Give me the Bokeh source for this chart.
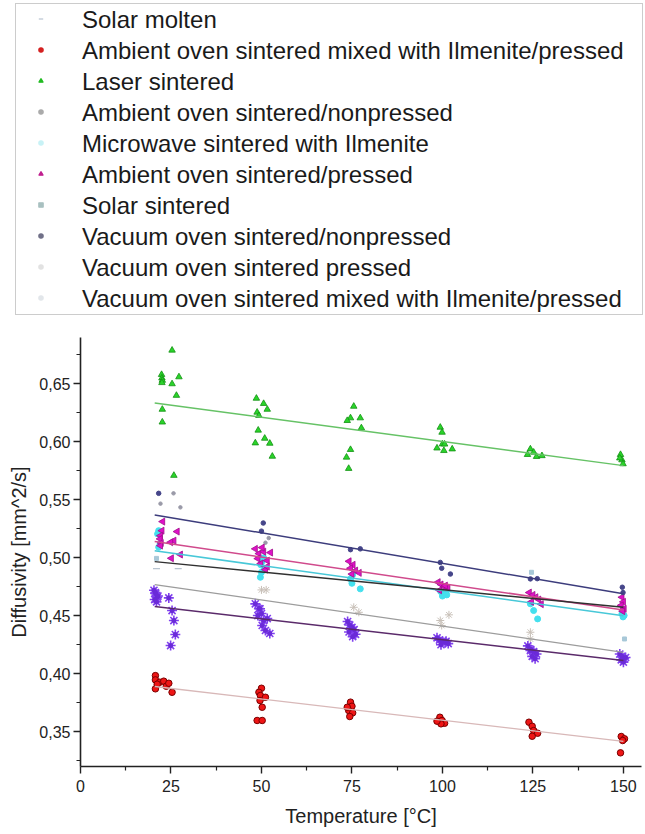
from bokeh.plotting import figure
from bokeh.models import Range1d, FixedTicker, Legend, LegendItem, CustomJSTickFormatter, Plot
from bokeh.layouts import column
from bokeh.embed import file_html
from bokeh.resources import INLINE
import math

# ---------------- data ----------------
series_names = [
    "Solar molten",
    "Ambient oven sintered mixed with Ilmenite/pressed",
    "Laser sintered",
    "Ambient oven sintered/nonpressed",
    "Microwave sintered with Ilmenite",
    "Ambient oven sintered/pressed",
    "Solar sintered",
    "Vacuum oven sintered/nonpressed",
    "Vacuum oven sintered pressed",
    "Vacuum oven sintered mixed with Ilmenite/pressed",
]

x_ticks = [0, 25, 50, 75, 100, 125, 150]
y_ticks = [0.35, 0.40, 0.45, 0.50, 0.55, 0.60, 0.65]

laser_x = [25.3, 22.4, 22.5, 22.6, 22.5, 25.3, 27.2, 26.5, 22.6, 22.6, 25.8,
           48.6, 50.6, 51.6, 48.8, 49.3, 49.1, 50.9, 48.3, 52.3, 53.0,
           75.5, 74.6, 73.7, 77.3, 77.6, 74.6, 73.5, 74.1,
           99.4, 99.9, 100.0, 98.5, 100.4, 102.7, 100.6,
           124.3, 125.2, 123.5, 126.0, 127.5,
           149.2, 149.6, 149.9, 149.0]
laser_y = [0.679, 0.658, 0.655, 0.653, 0.651, 0.650, 0.656, 0.640, 0.628, 0.617, 0.571,
           0.6375, 0.633, 0.628, 0.6255, 0.6226, 0.610, 0.603, 0.599, 0.5987, 0.5875,
           0.6306, 0.6206, 0.6183, 0.6206, 0.612, 0.5933, 0.5867, 0.577,
           0.6125, 0.6082, 0.5981, 0.5946, 0.5924, 0.5938, 0.598,
           0.5938, 0.591, 0.589, 0.5873, 0.588,
           0.589, 0.5844, 0.581, 0.586]

red_x = [20.7, 20.7, 20.7, 21.9, 23.0, 23.7, 24.4, 25.3, 21.2,
         50.0, 49.3, 49.7, 51.1, 49.6, 50.2, 48.8, 50.2,
         74.6, 75.0, 74.1, 75.2, 74.4, 73.7,
         99.3, 99.9, 100.6, 99.6, 98.5,
         123.9, 124.8, 125.2, 126.3, 124.8,
         149.4, 150.3, 149.8, 149.2]
red_y = [0.3984, 0.3947, 0.387, 0.3927, 0.3936, 0.3892, 0.3918, 0.384, 0.391,
         0.3875, 0.384, 0.3812, 0.3797, 0.3769, 0.3711, 0.3597, 0.3597,
         0.3755, 0.372, 0.3683, 0.3663, 0.3631, 0.3711,
         0.3625, 0.3597, 0.3573, 0.3568, 0.3591,
         0.3582, 0.3547, 0.351, 0.3487, 0.3461,
         0.3459, 0.3439, 0.3424, 0.3318]

mag_x = [22.7, 22.5, 22.1, 22.0, 22.3, 22.1, 25.8, 24.9, 26.7, 27.6, 25.1,
         48.3, 49.3, 50.6, 52.5, 51.6, 49.8, 49.0, 50.2, 51.1, 51.6,
         74.2, 75.3, 74.6, 76.0, 77.0, 75.0,
         98.8, 99.6, 100.5, 101.5, 99.2, 100.8,
         124.0, 125.0, 125.8, 126.6, 124.6, 127.3,
         149.6, 150.0, 149.4, 150.2, 149.8]
mag_y = [0.5312, 0.5234, 0.5191, 0.5163, 0.5128, 0.5105, 0.5148, 0.5134, 0.5226, 0.5028, 0.4996,
         0.5077, 0.5036, 0.5053, 0.5045, 0.4976, 0.495, 0.4993, 0.5088, 0.4898, 0.4924,
         0.497, 0.494, 0.491, 0.489, 0.487, 0.486,
         0.479, 0.477, 0.475, 0.474, 0.472, 0.476,
         0.470, 0.468, 0.466, 0.464, 0.462, 0.460,
         0.466, 0.462, 0.459, 0.456, 0.454]

cyan_x = [21.6, 21.3, 21.6, 22.0, 50.6, 50.2, 49.8, 50.8, 50.0, 49.7,
          74.6, 75.2, 77.3, 75.0, 99.5, 100.3, 101.2, 100.0,
          124.3, 125.2, 126.3, 149.6, 150.2, 149.9]
cyan_y = [0.5234, 0.5206, 0.5091, 0.512, 0.500, 0.497, 0.494, 0.491, 0.4875, 0.4832,
          0.4818, 0.4855, 0.4732, 0.478, 0.471, 0.469, 0.468, 0.467,
          0.4603, 0.4545, 0.4473, 0.4517, 0.4502, 0.449]

navy_x = [21.6, 50.0, 50.5, 74.6, 77.3, 99.4, 99.8, 102.2, 124.3, 126.2, 149.7, 149.9]
navy_y = [0.5556, 0.523, 0.530, 0.507, 0.5077, 0.496, 0.491, 0.486, 0.4818, 0.482, 0.4746, 0.470]

anp_x = [25.7, 22.1, 27.6, 51.1, 52.0]
anp_y = [0.5556, 0.5467, 0.5435, 0.513, 0.517]

vp_x = [50.0, 51.3, 75.5, 76.9, 99.4, 99.8, 101.8, 124.3, 124.3]
vp_y = [0.4723, 0.4723, 0.4573, 0.453, 0.4459, 0.4416, 0.4508, 0.4358, 0.430]

molten_x = [21.0, 27.0]
molten_y = [0.4907, 0.4907]

solar_x = [21.0, 124.6, 150.3]
solar_y = [0.4995, 0.4875, 0.430]

star_x = [20.3, 20.8, 21.2, 20.5, 21.0, 20.7, 21.4, 24.4, 25.3, 25.8, 26.2, 24.9,
          48.3, 49.3, 50.0, 50.6, 50.2, 51.1, 52.3, 49.0, 51.6, 49.6,
          73.8, 74.4, 75.0, 75.6, 74.2, 76.0, 75.2, 74.8,
          98.5, 99.2, 100.0, 100.8, 101.6, 99.6, 101.0,
          123.6, 124.4, 125.2, 126.0, 124.8, 125.6, 124.3,
          149.0, 149.6, 150.2, 149.4, 150.0, 150.6]
star_y = [0.472, 0.469, 0.466, 0.464, 0.462, 0.470, 0.467, 0.4654, 0.4545, 0.4459, 0.4338, 0.4243,
          0.4603, 0.4562, 0.4519, 0.4459, 0.4416, 0.4373, 0.4347, 0.4502, 0.4476, 0.4560,
          0.445, 0.442, 0.440, 0.438, 0.436, 0.434, 0.432, 0.439,
          0.431, 0.429, 0.428, 0.427, 0.426, 0.425, 0.428,
          0.424, 0.421, 0.419, 0.417, 0.415, 0.413, 0.420,
          0.417, 0.415, 0.413, 0.412, 0.410, 0.414]

# linear fit lines (start / end values)
fit_x = [20.5, 150.0]
fit_laser = [0.6335, 0.5795]
fit_navy = [0.537, 0.469]
fit_mag = [0.514, 0.455]
fit_cyan = [0.506, 0.450]
fit_black = [0.4967, 0.4573]
fit_gray = [0.4769, 0.4185]
fit_purple = [0.458, 0.4114]
fit_red = [0.389, 0.3416]

FONT = "Liberation Sans"

# data per legend entry (same order as series_names)
series_data = [
    (molten_x, molten_y), (red_x, red_y), (laser_x, laser_y), (anp_x, anp_y),
    (cyan_x, cyan_y), (mag_x, mag_y), (solar_x, solar_y), (navy_x, navy_y),
    (vp_x, vp_y), (star_x, star_y),
]

# ---------------- legend panel ----------------
# the panel's ranges lie outside the data, so only the legend swatches are drawn
lf = figure(width=645, height=325, output_backend="svg", toolbar_location=None,
            x_axis_location=None, y_axis_location=None,
            x_range=Range1d(1000, 1001), y_range=Range1d(1000, 1001),
            min_border_left=15, min_border_top=3, min_border_right=0, min_border_bottom=0)
lf.outline_line_color = None
lf.grid.visible = False

legend_style = [
    ("dash", "#b8c4d0", 0.0),
    ("circle", "#d42020", 0.0),
    ("triangle", "#22bb22", 0.0),
    ("circle", "#aaaaaa", 0.0),
    ("circle", "#c8f2f6", 0.0),
    ("triangle", "#c0208f", math.pi / 2),
    ("square", "#a8c0c0", 0.0),
    ("circle", "#707088", 0.0),
    ("circle", "#e2e2e2", 0.0),
    ("circle", "#e2e6ea", 0.0),
]

# legend 1: box and labels (swatches transparent)
text_items = []
# legend 2: the small swatches only, placed where the reference shows them
mark_items = []
for name, (sx, sy), (mk, col, ang) in zip(series_names, series_data, legend_style):
    r_hidden = lf.scatter(x=sx, y=sy, marker="circle", size=1, fill_alpha=0, line_alpha=0)
    text_items.append(LegendItem(label=name, renderers=[r_hidden]))
    r = lf.scatter(x=sx, y=sy, marker=mk, size=4, angle=ang, fill_color=col, line_color=col,
                   line_width=1.2)
    mark_items.append(LegendItem(label=" ", renderers=[r]))

leg = Legend(items=text_items, location="top_left", margin=0, padding=0, spacing=0,
             label_height=31, glyph_height=31, glyph_width=50, label_standoff=16,
             label_width=560,
             label_text_font=FONT, label_text_font_size="24px", label_text_color="#1a1a1a",
             border_line_color="#9a9a9a", border_line_width=1,
             background_fill_color="white", background_fill_alpha=1.0)
lf.add_layout(leg)

leg_marks = Legend(items=mark_items, location=(19.5, 12), margin=0, padding=0, spacing=0,
                   label_height=31, glyph_height=31, glyph_width=11, label_standoff=0,
                   label_width=0, label_text_font=FONT, label_text_font_size="24px",
                   border_line_color=None, background_fill_alpha=0.0)
lf.add_layout(leg_marks)

# ---------------- main plot ----------------
p = figure(width=645, height=509, output_backend="svg", toolbar_location=None,
           x_range=Range1d(0, 155), y_range=Range1d(0.32, 0.69),
           min_border_left=80, min_border_right=4, min_border_top=12, min_border_bottom=68)
p.outline_line_color = None
p.grid.visible = False
p.background_fill_color = "white"

# keep each plot's frame where its own borders put it
if "frame_align" in Plot.properties():
    lf.frame_align = False
    p.frame_align = False

# scatter series
p.scatter(molten_x, molten_y, marker="dash", size=7, line_color="#b8c4d0", line_width=1.2)
p.scatter(anp_x, anp_y, marker="circle", size=3.5, fill_color="#9a9aa8", line_color="#9a9aa8")
p.scatter(vp_x, vp_y, marker="asterisk", size=8, line_color="#c8c0b8", line_width=1)
p.scatter(solar_x, solar_y, marker="square", size=4, fill_color="#a8c8d8", line_color="#a8c8d8")
p.scatter(star_x, star_y, marker="asterisk", size=10, line_color="#8040ee", line_width=1.6)
p.scatter(star_x, star_y, marker="circle", size=4, fill_color="#6a2ad8", line_color="#6a2ad8")
p.scatter(cyan_x, cyan_y, marker="circle", size=6, fill_color="#44e0ee", line_color="#44e0ee")
p.scatter(mag_x, mag_y, marker="triangle", size=7, angle=math.pi / 2,
          fill_color="#e010c8", line_color="#a0108a", line_width=0.8)
p.scatter(navy_x, navy_y, marker="circle", size=4.5, fill_color="#46468a", line_color="#46468a")
p.scatter(red_x, red_y, marker="circle", size=6.5, fill_color="#ee1515", line_color="#7a0000", line_width=1)
p.scatter(laser_x, laser_y, marker="triangle", size=6.5, fill_color="#2ad42a",
          line_color="#139013", line_width=0.8)

# fit lines
p.line(fit_x, fit_laser, line_color="#66c266", line_width=1.5)
p.line(fit_x, fit_navy, line_color="#3c3c7c", line_width=1.5)
p.line(fit_x, fit_mag, line_color="#d04a8c", line_width=1.5)
p.line(fit_x, fit_cyan, line_color="#48c8d8", line_width=1.5)
p.line(fit_x, fit_black, line_color="#303030", line_width=1.5)
p.line(fit_x, fit_gray, line_color="#9c9c9c", line_width=1.3)
p.line(fit_x, fit_purple, line_color="#5a2a6a", line_width=1.5)
p.line(fit_x, fit_red, line_color="#d8b8b8", line_width=1.3)

# axes
p.xaxis.ticker = FixedTicker(ticks=x_ticks, minor_ticks=[t + 12.5 for t in x_ticks[:-1]])
p.yaxis.ticker = FixedTicker(ticks=y_ticks,
                             minor_ticks=[round(t - 0.025, 3) for t in y_ticks] + [0.675])
p.yaxis.formatter = CustomJSTickFormatter(code="return tick.toFixed(2).replace('.', ',');")
p.xaxis.axis_label = "Temperature [°C]"
p.yaxis.axis_label = "Diffusivity [mm^2/s]"
for ax in (p.xaxis, p.yaxis):
    ax.axis_line_color = "#222222"
    ax.axis_line_width = 1.6
    ax.major_tick_line_color = "#222222"
    ax.minor_tick_line_color = "#222222"
    ax.major_tick_line_width = 1.4
    ax.minor_tick_line_width = 1.2
    ax.major_tick_in = 0
    ax.major_tick_out = 7
    ax.minor_tick_in = 0
    ax.minor_tick_out = 4
    ax.major_label_text_font = FONT
    ax.major_label_text_font_size = "16px"
    ax.major_label_text_color = "#222222"
    ax.axis_label_text_font = FONT
    ax.axis_label_text_font_size = "20px"
    ax.axis_label_text_font_style = "normal"
    ax.axis_label_text_color = "#222222"
p.xaxis.major_label_standoff = 6
p.xaxis.axis_label_standoff = 10
p.yaxis.major_label_standoff = 3
p.yaxis.axis_label_standoff = 6

layout = column(lf, p, spacing=0)
open("out.html", "w").write(file_html(layout, INLINE))
